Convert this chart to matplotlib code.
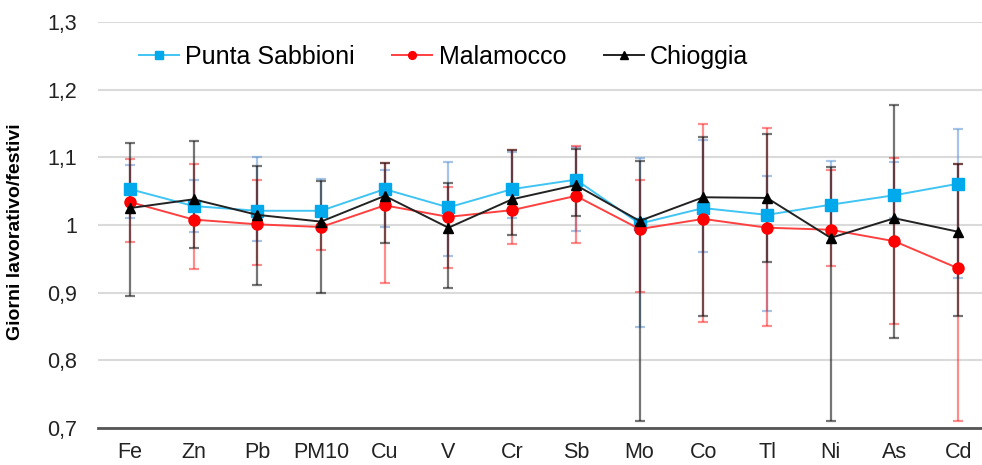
import matplotlib
matplotlib.use("Agg")
import matplotlib.pyplot as plt
import numpy as np

plt.rcParams['font.family'] = ['Liberation Sans', 'DejaVu Sans']

categories = ["Fe", "Zn", "Pb", "PM10", "Cu", "V", "Cr", "Sb", "Mo", "Co", "Tl", "Ni", "As", "Cd"]

punta_val = [1.053, 1.028, 1.021, 1.021, 1.053, 1.026, 1.053, 1.067, 1.002, 1.025, 1.015, 1.030, 1.044, 1.061]
punta_hi = [1.088, 1.066, 1.101, 1.068, 1.081, 1.093, 1.108, 1.115, 1.099, 1.125, 1.073, 1.094, 1.093, 1.142]
punta_lo = [1.011, 0.990, 0.977, 1.000, 0.997, 0.954, 1.011, 0.991, 0.849, 0.960, 0.873, 0.992, 1.010, 0.922]

mala_val = [1.034, 1.008, 1.001, 0.997, 1.029, 1.012, 1.022, 1.043, 0.994, 1.009, 0.996, 0.993, 0.976, 0.936]
mala_hi = [1.097, 1.090, 1.066, 1.025, 1.091, 1.056, 1.111, 1.117, 1.066, 1.149, 1.143, 1.082, 1.099, 1.090]
mala_lo = [0.975, 0.935, 0.941, 0.963, 0.915, 0.937, 0.972, 0.974, 0.901, 0.857, 0.851, 0.940, 0.853, 0.711]

chio_val = [1.025, 1.038, 1.015, 1.005, 1.043, 0.996, 1.038, 1.059, 1.006, 1.041, 1.040, 0.981, 1.010, 0.990]
chio_hi = [1.121, 1.124, 1.087, 1.065, 1.091, 1.062, 1.111, 1.113, 1.094, 1.130, 1.135, 1.086, 1.177, 1.090]
chio_lo = [0.895, 0.966, 0.911, 0.899, 0.974, 0.907, 0.985, 1.014, 0.710, 0.866, 0.946, 0.711, 0.833, 0.866]

y_ticks = [0.7, 0.8, 0.9, 1.0, 1.1, 1.2, 1.3]
y_tick_labels = ["0,7", "0,8", "0,9", "1", "1,1", "1,2", "1,3"]

fig = plt.figure(figsize=(9.82, 4.65), dpi=100)
ax = fig.add_axes([98 / 982, 37 / 465, 884 / 982, 406 / 465])

x = np.arange(len(categories))

series = [
    ("Punta Sabbioni", punta_val, punta_lo, punta_hi, "#40C4F4", "#00A8EC", "s", 8, (0.36, 0.58, 0.84, 0.55)),
    ("Malamocco", mala_val, mala_lo, mala_hi, "#FF4040", "#FF0000", "o", 8, (1.0, 0.1, 0.1, 0.5)),
    ("Chioggia", chio_val, chio_lo, chio_hi, "#222222", "#000000", "^", 7.5, (0.1, 0.1, 0.1, 0.6)),
]

# asymmetric error bars first, so the connecting lines and markers sit on top
for name, val, lo, hi, lc, mc, mk, ms, ec in series:
    val = np.array(val)
    err = np.vstack([val - np.array(lo), np.array(hi) - val])
    ax.errorbar(x, val, yerr=err, fmt="none", ecolor=ec, elinewidth=1.6,
                capsize=3.6, capthick=1.6, zorder=2)

for name, val, lo, hi, lc, mc, mk, ms, ec in series:
    ax.plot(x, val, color=lc, lw=1.4, marker=mk, markersize=ms,
            markerfacecolor=mc, markeredgecolor=mc, label=name, zorder=3)

ax.set_xlim(-0.5, len(categories) - 0.5 - 8 / 63.7)
ax.set_ylim(0.7, 1.3)
ax.set_yticks(y_ticks)
ax.set_yticklabels(y_tick_labels)
ax.set_xticks(x)
ax.set_xticklabels(categories)
ax.tick_params(axis="both", length=0, labelsize=15.5, colors="#222222")
ax.tick_params(axis="y", pad=15)
ax.tick_params(axis="x", pad=10)

ax.grid(axis="y", color="#DADADA", lw=1.5, zorder=0)
ax.set_axisbelow(True)
for s in ["top", "right", "left"]:
    ax.spines[s].set_visible(False)
ax.spines["bottom"].set_color("#555555")
ax.spines["bottom"].set_linewidth(2)

ax.set_ylabel("Giorni lavorativo/festivi", fontsize=14, fontweight="bold")
ax.yaxis.set_label_coords(-74 / 884, 0.484)

leg = ax.legend(loc="center left", bbox_to_anchor=(41 / 884, 0.914), ncol=3, frameon=False,
                fontsize=18, handlelength=1.6, columnspacing=1.5, handletextpad=0.25,
                markerscale=0.7, borderpad=0, borderaxespad=0)

fig.savefig("out.png", dpi=100)
